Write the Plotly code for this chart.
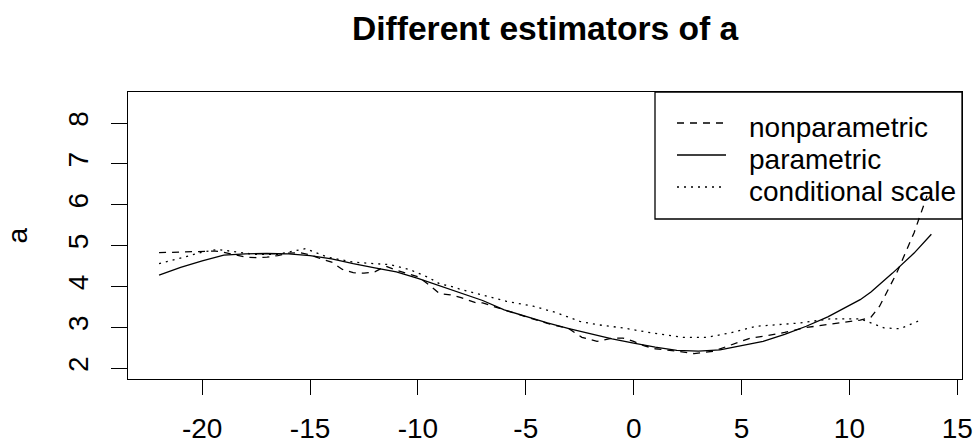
import plotly.graph_objects as go

# ---------------- data ----------------
x_par = [-22, -21, -20, -19, -18, -17, -16, -15, -14, -13, -12, -11, -10, -9, -8, -7,
         -6, -5, -4, -3, -2, -1, 0, 1, 2, 3, 4, 5, 6, 7, 8, 9, 10, 10.5, 11, 12, 13, 13.8]
y_par = [4.28, 4.47, 4.63, 4.77, 4.80, 4.81, 4.80, 4.76, 4.68, 4.56, 4.46, 4.36, 4.20, 4.02,
         3.84, 3.66, 3.43, 3.27, 3.11, 2.97, 2.85, 2.72, 2.62, 2.52, 2.44, 2.42, 2.45, 2.56,
         2.66, 2.83, 3.03, 3.26, 3.55, 3.68, 3.87, 4.33, 4.82, 5.28]

x_nonpar = [-22, -21, -20, -19.4, -19, -18, -17.5, -17, -16.5, -16, -15.5, -15, -14.5, -14,
            -13.5, -13, -12.5, -12, -11.5, -11, -10.5, -10, -9.5, -9, -8.5, -8, -7.3, -7,
            -6, -5, -4, -3, -2.4, -1.7, -1, -0.5, 0, 0.5, 1, 2, 2.8, 3.7, 4.8, 5.4, 6.2, 7,
            8, 9.4, 10.5, 11, 11.4, 12.2, 13, 13.6]
y_nonpar = [4.83, 4.84, 4.86, 4.87, 4.84, 4.72, 4.71, 4.72, 4.76, 4.82, 4.83, 4.78, 4.68, 4.60,
            4.42, 4.34, 4.33, 4.36, 4.50, 4.40, 4.32, 4.24, 4.05, 3.83, 3.80, 3.73, 3.60, 3.60,
            3.43, 3.26, 3.10, 2.97, 2.76, 2.66, 2.74, 2.74, 2.66, 2.55, 2.48, 2.42, 2.36, 2.42,
            2.62, 2.74, 2.80, 2.88, 3.00, 3.11, 3.18, 3.25, 3.52, 4.34, 5.32, 6.22]

x_cond = [-22, -21, -20, -19.3, -18.5, -17.6, -16.5, -15.2, -14.2, -13, -12, -11.3, -10.4,
          -9.5, -9, -8.5, -8, -7.1, -5.9, -4.65, -3.57, -2.5, -1.7, -0.5, 0.8, 2.3, 3.4, 4.5,
          5.7, 7.7, 9.1, 10.5, 11.6, 12.35, 13.35]
y_cond = [4.56, 4.70, 4.84, 4.91, 4.86, 4.79, 4.79, 4.93, 4.72, 4.60, 4.56, 4.54, 4.42,
          4.22, 4.07, 4.01, 3.93, 3.81, 3.64, 3.52, 3.36, 3.15, 3.07, 2.99, 2.87, 2.76, 2.76,
          2.87, 3.03, 3.11, 3.21, 3.21, 2.99, 2.97, 3.19]

x_ticks = [-20, -15, -10, -5, 0, 5, 10, 15]
y_ticks = [2, 3, 4, 5, 6, 7, 8]
series_names = ["nonparametric", "parametric", "conditional scale"]
title_text = "Different estimators of a"
ylabel_text = "a"

# ---------------- figure ----------------
FONT = "Liberation Sans, Arial, sans-serif"
DASHED = "7px,6px"
DOTTED = "2px,5px"
LW = 1.3
styles = [DASHED, "solid", DOTTED]

fig = go.Figure()
fig.add_trace(go.Scatter(x=x_nonpar, y=y_nonpar, mode="lines", name=series_names[0],
                         line=dict(color="black", width=LW, dash=DASHED)))
fig.add_trace(go.Scatter(x=x_par, y=y_par, mode="lines", name=series_names[1],
                         line=dict(color="black", width=LW, dash="solid")))
fig.add_trace(go.Scatter(x=x_cond, y=y_cond, mode="lines", name=series_names[2],
                         line=dict(color="black", width=LW, dash=DOTTED)))

L, R, T, B = 128, 16, 92, 68
W, H = 978, 447
pw, ph = W - L - R, H - T - B

def px2paper_x(px):
    return (px - L) / pw

def px2paper_y(py):
    return (H - B - py) / ph

shapes = [dict(type="rect", xref="paper", yref="paper",
               x0=px2paper_x(655), x1=1, y0=px2paper_y(219), y1=1,
               line=dict(color="black", width=LW), fillcolor="rgba(0,0,0,0)")]
annotations = []
sample_y = [123, 155, 187]
text_y = [127, 159, 191]
for name, dash, sy, ty in zip(series_names, styles, sample_y, text_y):
    shapes.append(dict(type="line", xref="paper", yref="paper",
                       x0=px2paper_x(677), x1=px2paper_x(726),
                       y0=px2paper_y(sy), y1=px2paper_y(sy),
                       line=dict(color="black", width=LW, dash=dash)))
    annotations.append(dict(xref="paper", yref="paper", x=px2paper_x(747), y=px2paper_y(ty),
                            text=name, showarrow=False, xanchor="left", yanchor="middle",
                            font=dict(family=FONT, size=28, color="black")))

annotations.append(dict(xref="paper", yref="paper", x=0.5, y=px2paper_y(28),
                        text="<b>" + title_text + "</b>", showarrow=False,
                        xanchor="center", yanchor="middle",
                        font=dict(family=FONT, size=33.6, color="black")))
annotations.append(dict(xref="paper", yref="paper", x=px2paper_x(17), y=0.5,
                        text=ylabel_text, showarrow=False, textangle=-90,
                        xanchor="center", yanchor="middle",
                        font=dict(family=FONT, size=28, color="black")))

fig.update_layout(
    template="none",
    width=W, height=H,
    margin=dict(l=L, r=R, t=T, b=B, pad=0, autoexpand=False),
    paper_bgcolor="white", plot_bgcolor="white",
    showlegend=False,
    font=dict(family=FONT, size=28, color="black"),
    shapes=shapes, annotations=annotations,
    xaxis=dict(range=[-23.44, 15.22], tickmode="array", tickvals=x_ticks,
               ticktext=[str(v) for v in x_ticks], automargin=False,
               showgrid=False, zeroline=False, showline=True, mirror=True,
               linecolor="black", linewidth=LW, ticks="outside", ticklen=15,
               tickcolor="black", tickwidth=LW, ticklabelstandoff=9,
               tickfont=dict(family=FONT, size=28, color="black")),
    yaxis=dict(range=[1.74, 8.76], tickmode="array", tickvals=y_ticks,
               ticktext=[str(v) for v in y_ticks], automargin=False,
               showgrid=False, zeroline=False, showline=True, mirror=True,
               linecolor="black", linewidth=LW, ticks="outside", ticklen=16,
               tickcolor="black", tickwidth=LW, tickangle=-90, ticklabelstandoff=12,
               tickfont=dict(family=FONT, size=28, color="black")),
)

fig.write_html("out.html", config={"displayModeBar": False},
               post_script="document.body.style.margin='0';document.body.style.padding='0';")
